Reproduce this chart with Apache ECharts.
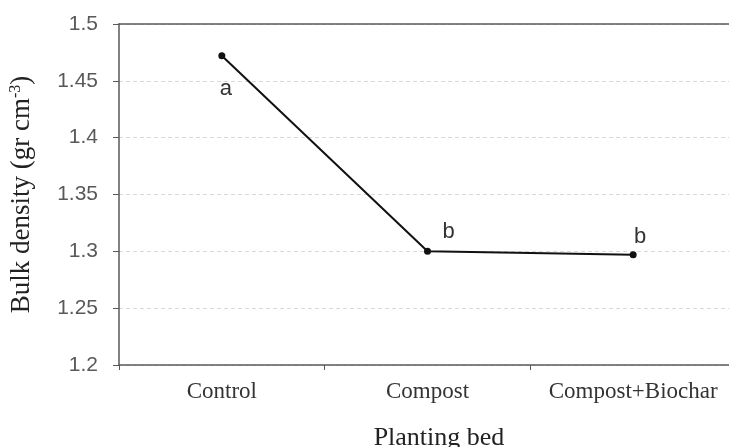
<!DOCTYPE html>
<html>
<head>
<meta charset="utf-8">
<script src="https://cdn.jsdelivr.net/npm/echarts@6/dist/echarts.min.js"></script>
<style>html,body{margin:0;padding:0;background:#fff}#c{width:729px;height:447px}</style>
</head>
<body>
<div id="c"></div>
<script>
const categories = ['Control', 'Compost', 'Compost+Biochar'];
const bulkDensity = [1.472, 1.300, 1.297];
const letters = ['a', 'b', 'b'];
const yTicks = [1.2, 1.25, 1.3, 1.35, 1.4, 1.45, 1.5];
const labelOffsets = [[4, 33], [21, -19], [7, -18]];

const chart = echarts.init(document.getElementById('c'));
const axisColor = '#595959';
chart.setOption({
  animation: false,
  backgroundColor: '#fff',
  grid: { left: 119, right: -7, top: 24, bottom: 82, containLabel: false, outerBoundsMode: 'none' },
  xAxis: [{
    type: 'category',
    data: categories,
    boundaryGap: true,
    axisLine: { lineStyle: { color: axisColor, width: 1.5 } },
    axisTick: { show: true, length: 5, inside: false, lineStyle: { color: axisColor } },
    axisLabel: { interval: 0, margin: 15, color: '#333', fontFamily: 'Liberation Serif', fontSize: 23 },
    name: 'Planting bed',
    nameLocation: 'middle',
    nameGap: 60,
    nameTextStyle: { color: '#222', fontFamily: 'Liberation Serif', fontSize: 26, padding: [0, 0, 0, 23] }
  }, {
    type: 'category',
    data: categories,
    position: 'top',
    axisLine: { show: true, lineStyle: { color: axisColor, width: 1.5 } },
    axisTick: { show: false },
    axisLabel: { show: false }
  }],
  yAxis: {
    type: 'value',
    min: yTicks[0],
    max: yTicks[yTicks.length - 1],
    interval: 0.05,
    axisLine: { show: true, lineStyle: { color: axisColor, width: 1.5 } },
    axisTick: { show: true, length: 6, lineStyle: { color: axisColor } },
    axisLabel: {
      margin: 21, color: '#595959', fontFamily: 'Liberation Sans', fontSize: 21,
      formatter: v => String(parseFloat(v.toFixed(2)))
    },
    splitLine: { show: true, lineStyle: { color: '#d9d9d9', type: [4, 3] } },
    name: 'Bulk density (gr cm{sup|-3})',
    nameLocation: 'middle',
    nameGap: 84,
    nameTextStyle: {
      color: '#222', fontFamily: 'Liberation Serif', fontSize: 27,
      rich: { sup: { fontFamily: 'Liberation Serif', fontSize: 16, color: '#222', verticalAlign: 'top', padding: [0, 0, 10, 0] } }
    }
  },
  series: [{
    type: 'line',
    data: bulkDensity.map((v, i) => ({
      value: v,
      label: {
        show: true,
        formatter: letters[i],
        position: 'inside',
        offset: labelOffsets[i],
        color: '#333',
        fontFamily: 'Liberation Sans',
        fontSize: 22
      }
    })),
    symbol: 'circle',
    symbolSize: 7,
    itemStyle: { color: '#111' },
    lineStyle: { color: '#111', width: 2 }
  }]
});
</script>
</body>
</html>
